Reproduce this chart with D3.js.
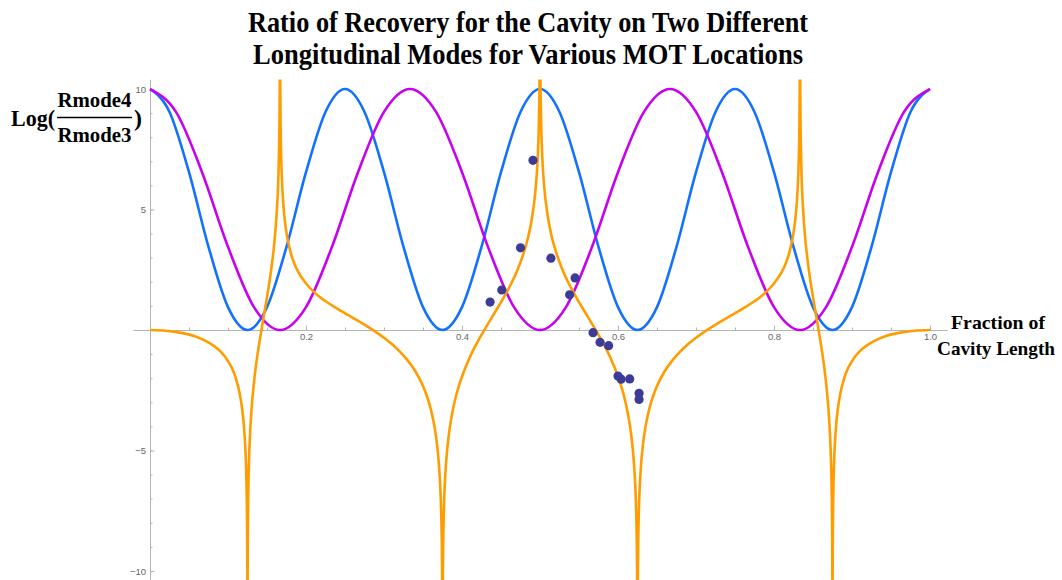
<!DOCTYPE html>
<html>
<head>
<meta charset="utf-8">
<script src="https://cdn.jsdelivr.net/npm/d3@7"></script>
<style>
  body { margin: 0; background: #fff; }
  svg { display: block; font-family: "Liberation Serif", "Times New Roman", serif; }
  .tick text { fill: #666; font-size: 9.5px; }
</style>
</head>
<body>
<div id="chart"></div>
<script>
// values
const blueX = [0, 0.025, 0.05, 0.075, 0.1, 0.125, 0.15, 0.175, 0.2, 0.225,
  0.25, 0.275, 0.3, 0.325, 0.35, 0.375, 0.4, 0.425, 0.45, 0.475,
  0.5, 0.525, 0.55, 0.575, 0.6, 0.625, 0.65, 0.675, 0.7, 0.725,
  0.75, 0.775, 0.8, 0.825, 0.85, 0.875, 0.9, 0.925, 0.95, 0.975, 1];
const blueY = [10, 9.05, 6.55, 3.45, 0.95, 0, 0.95, 3.45, 6.55, 9.05,
  10, 9.05, 6.55, 3.45, 0.95, 0, 0.95, 3.45, 6.55, 9.05,
  10, 9.05, 6.55, 3.45, 0.95, 0, 0.95, 3.45, 6.55, 9.05,
  10, 9.05, 6.55, 3.45, 0.95, 0, 0.95, 3.45, 6.55, 9.05, 10];

const magentaX = [0, 0.0333, 0.0667, 0.1, 0.1333, 0.1667, 0.2, 0.2333, 0.2667, 0.3,
  0.3333, 0.3667, 0.4, 0.4333, 0.4667, 0.5, 0.5333, 0.5667, 0.6, 0.6333,
  0.6667, 0.7, 0.7333, 0.7667, 0.8, 0.8333, 0.8667, 0.9, 0.9333, 0.9667, 1];
const magentaY = [10, 9.05, 6.55, 3.45, 0.95, 0, 0.95, 3.45, 6.55, 9.05,
  10, 9.05, 6.55, 3.45, 0.95, 0, 0.95, 3.45, 6.55, 9.05,
  10, 9.05, 6.55, 3.45, 0.95, 0, 0.95, 3.45, 6.55, 9.05, 10];

// log ratio curve, null splits the branches at the poles
const orangeX = [
  0, 0.02, 0.04, 0.06, 0.08, 0.09, 0.1, 0.105, 0.11, 0.115, 0.118, 0.12, 0.122, 0.123, 0.124, 0.1245, 0.1248, 0.1249, null,
  0.1251, 0.1252, 0.1255, 0.126, 0.127, 0.128, 0.13, 0.133, 0.136, 0.14, 0.143, 0.146, 0.15, 0.154, 0.158, 0.161, 0.163, 0.165, 0.166, 0.16637, 0.1666, null,
  0.1668, 0.167, 0.1675, 0.168, 0.169, 0.17, 0.172, 0.175, 0.18, 0.185, 0.19, 0.2, 0.21, 0.22, 0.23, 0.24, 0.25, 0.26, 0.27, 0.28, 0.29, 0.3, 0.31, 0.32, 0.33, 0.34, 0.35, 0.355, 0.36, 0.365, 0.368, 0.37, 0.372, 0.373, 0.374, 0.3745, 0.3748, null,
  0.3752, 0.3755, 0.376, 0.377, 0.378, 0.38, 0.383, 0.386, 0.39, 0.395, 0.4, 0.41, 0.42, 0.43, 0.44, 0.45, 0.46, 0.47, 0.48, 0.485, 0.49, 0.494, 0.497, 0.4985, 0.4995, 0.4998, null,
  0.5002, 0.5005, 0.5015, 0.503, 0.506, 0.51, 0.515, 0.52, 0.53, 0.54, 0.55, 0.56, 0.57, 0.58, 0.59, 0.6, 0.605, 0.61, 0.614, 0.617, 0.62, 0.622, 0.623, 0.624, 0.6245, 0.6248, null,
  0.6252, 0.6255, 0.626, 0.627, 0.628, 0.63, 0.632, 0.635, 0.64, 0.645, 0.65, 0.66, 0.67, 0.68, 0.69, 0.7, 0.71, 0.72, 0.73, 0.74, 0.75, 0.76, 0.77, 0.78, 0.79, 0.8, 0.81, 0.815, 0.82, 0.825, 0.828, 0.83, 0.831, 0.832, 0.8325, 0.833, 0.8332, null,
  0.8334, 0.83363, 0.834, 0.835, 0.837, 0.839, 0.842, 0.846, 0.85, 0.854, 0.857, 0.86, 0.864, 0.867, 0.87, 0.872, 0.873, 0.874, 0.8745, 0.8748, 0.8749, null,
  0.8751, 0.8752, 0.8755, 0.876, 0.877, 0.878, 0.88, 0.882, 0.885, 0.89, 0.895, 0.9, 0.91, 0.92, 0.94, 0.96, 0.98, 1];
const orangeY = [
  0, -0.03, -0.12, -0.29, -0.62, -0.88, -1.29, -1.58, -2.0, -2.64, -3.24, -3.83, -4.77, -5.53, -6.88, -8.24, -10.06, -11.45, null,
  -11.43, -10.04, -8.2, -6.79, -5.35, -4.49, -3.37, -2.27, -1.45, -0.57, 0.03, 0.6, 1.36, 2.19, 3.19, 4.21, 5.18, 6.85, 8.72, 10.34, 13.36, null,
  11.98, 10.16, 8.34, 7.42, 6.35, 5.67, 4.81, 4.03, 3.25, 2.76, 2.41, 1.93, 1.58, 1.31, 1.09, 0.885, 0.693, 0.506, 0.316, 0.118, -0.093, -0.32, -0.58, -0.885, -1.25, -1.7, -2.32, -2.74, -3.29, -4.06, -4.76, -5.41, -6.42, -7.22, -8.6, -9.99, -11.82, null,
  -11.81, -9.98, -8.59, -7.19, -6.37, -5.34, -4.37, -3.71, -3.05, -2.42, -1.93, -1.13, -0.49, 0.078, 0.616, 1.155, 1.735, 2.41, 3.29, 3.88, 4.71, 5.74, 7.13, 8.52, 10.72, 12.55, null,
  12.55, 10.72, 8.52, 7.13, 5.74, 4.71, 3.88, 3.29, 2.41, 1.735, 1.155, 0.616, 0.078, -0.49, -1.13, -1.93, -2.42, -3.05, -3.71, -4.37, -5.34, -6.37, -7.19, -8.59, -9.98, -11.81, null,
  -11.82, -9.99, -8.6, -7.22, -6.42, -5.41, -4.76, -4.06, -3.29, -2.74, -2.32, -1.7, -1.25, -0.885, -0.58, -0.32, -0.093, 0.118, 0.316, 0.506, 0.693, 0.885, 1.09, 1.31, 1.58, 1.93, 2.41, 2.76, 3.25, 4.03, 4.81, 5.67, 6.35, 7.42, 8.34, 10.16, 11.98, null,
  13.36, 10.34, 8.72, 6.85, 5.18, 4.21, 3.19, 2.19, 1.36, 0.6, 0.03, -0.57, -1.45, -2.27, -3.37, -4.49, -5.35, -6.79, -8.2, -10.04, -11.43, null,
  -11.45, -10.06, -8.24, -6.88, -5.53, -4.77, -3.83, -3.24, -2.64, -2.0, -1.58, -1.29, -0.88, -0.62, -0.29, -0.12, -0.03, 0];

// measured points
const pointX = [0.436, 0.451, 0.475, 0.491, 0.514, 0.545, 0.538, 0.568, 0.577, 0.588, 0.600, 0.604, 0.615, 0.627, 0.627];
const pointY = [1.16, 1.66, 3.41, 7.04, 2.98, 2.16, 1.46, -0.11, -0.51, -0.65, -1.91, -2.04, -2.03, -2.63, -2.88];

const xMajorTicks = [0.2, 0.4, 0.6, 0.8, 1.0];
const xTickLabels = ["0.2", "0.4", "0.6", "0.8", "1.0"];
const xMinorTicks = d3.range(1, 21).map(i => i * 0.05);
const yMajorTicks = [-10, -5, 5, 10];
const yMinorTicks = d3.range(-10, 11).filter(v => v !== 0);

const titleLines = ["Ratio of Recovery for the Cavity on Two Different",
  "Longitudinal Modes for Various MOT Locations"];
const titleWidths = [560, 550];

const BLUE = "#1272ff";
const MAGENTA = "#c800f0";
const ORANGE = "#ff9c00";
const DOT = "#3c3c96";

const width = 1062, height = 580;

const svg = d3.select("#chart").append("svg")
  .attr("width", width)
  .attr("height", height);

const x = d3.scaleLinear().domain([-0.0218, 1.0218]).range([133, 947]);
const y = d3.scaleLinear().domain([-10.4, 10.4]).range([580.6, 79.4]);

svg.append("clipPath").attr("id", "plotclip")
  .append("rect")
    .attr("x", x.range()[0]).attr("y", y.range()[1])
    .attr("width", x.range()[1] - x.range()[0])
    .attr("height", y.range()[0] - y.range()[1]);

// axes
svg.append("g")
  .attr("transform", `translate(0,${y(0)})`)
  .call(d3.axisBottom(x).tickValues(xMinorTicks).tickSizeInner(-2.5).tickSizeOuter(0).tickFormat(""));
svg.append("g")
  .attr("transform", `translate(0,${y(0)})`)
  .call(d3.axisBottom(x).tickValues(xMajorTicks).tickSizeInner(-4.5).tickSizeOuter(0).tickPadding(3)
    .tickFormat((d, i) => xTickLabels[i]));

svg.append("g")
  .attr("transform", `translate(${x(0)},0)`)
  .call(d3.axisLeft(y).tickValues(yMinorTicks).tickSizeInner(-2.5).tickSizeOuter(0).tickFormat(""));
svg.append("g")
  .attr("transform", `translate(${x(0)},0)`)
  .call(d3.axisLeft(y).tickValues(yMajorTicks).tickSizeInner(-4.5).tickSizeOuter(0).tickPadding(4)
    .tickFormat(d => d < 0 ? "\u2212" + Math.abs(d) : d));

svg.selectAll(".domain").attr("stroke", "#b4b4b4");
svg.selectAll(".tick line").attr("stroke", "#b4b4b4");

// curves
const plot = svg.append("g").attr("clip-path", "url(#plotclip)");

const line = d3.line()
  .defined(d => d[0] !== null && d[1] !== null)
  .x(d => x(d[0]))
  .y(d => y(d[1]))
  .curve(d3.curveMonotoneX);

plot.append("path")
  .datum(d3.zip(blueX, blueY))
  .attr("d", line)
  .attr("fill", "none").attr("stroke", BLUE).attr("stroke-width", 2.6);

plot.append("path")
  .datum(d3.zip(magentaX, magentaY))
  .attr("d", line)
  .attr("fill", "none").attr("stroke", MAGENTA).attr("stroke-width", 2.6);

plot.append("path")
  .datum(d3.zip(orangeX, orangeY))
  .attr("d", line)
  .attr("fill", "none").attr("stroke", ORANGE).attr("stroke-width", 2.6);

plot.selectAll("circle")
  .data(d3.zip(pointX, pointY))
  .enter().append("circle")
    .attr("cx", d => x(d[0]))
    .attr("cy", d => y(d[1]))
    .attr("r", 4.6)
    .attr("fill", DOT);

// title
svg.append("g").selectAll("text")
  .data(titleLines)
  .enter().append("text")
    .attr("x", 528)
    .attr("y", (d, i) => 32 + i * 32)
    .attr("text-anchor", "middle")
    .attr("textLength", (d, i) => titleWidths[i])
    .attr("lengthAdjust", "spacingAndGlyphs")
    .style("font-size", "29px")
    .style("font-weight", "bold")
    .text(d => d);

// y label: Log(Rmode4 / Rmode3)
const ylab = svg.append("g").style("font-weight", "bold");
ylab.append("text").attr("x", 11).attr("y", 126).style("font-size", "24px")
  .attr("textLength", 44).attr("lengthAdjust", "spacingAndGlyphs").text("Log(");
ylab.append("text").attr("x", 94.5).attr("y", 107).attr("text-anchor", "middle")
  .style("font-size", "22px").attr("textLength", 74).attr("lengthAdjust", "spacingAndGlyphs").text("Rmode4");
ylab.append("line").attr("x1", 57).attr("x2", 132).attr("y1", 117.5).attr("y2", 117.5)
  .attr("stroke", "#000").attr("stroke-width", 1.6);
ylab.append("text").attr("x", 94.5).attr("y", 142).attr("text-anchor", "middle")
  .style("font-size", "22px").attr("textLength", 74).attr("lengthAdjust", "spacingAndGlyphs").text("Rmode3");
ylab.append("text").attr("x", 134).attr("y", 126).style("font-size", "24px").text(")");

// x label
const xlab = svg.append("g").style("font-weight", "bold").style("font-size", "19.5px");
xlab.append("text").attr("x", 951).attr("y", 329)
  .attr("textLength", 94).attr("lengthAdjust", "spacingAndGlyphs").text("Fraction of");
xlab.append("text").attr("x", 937).attr("y", 355)
  .attr("textLength", 118).attr("lengthAdjust", "spacingAndGlyphs").text("Cavity Length");
</script>
</body>
</html>
